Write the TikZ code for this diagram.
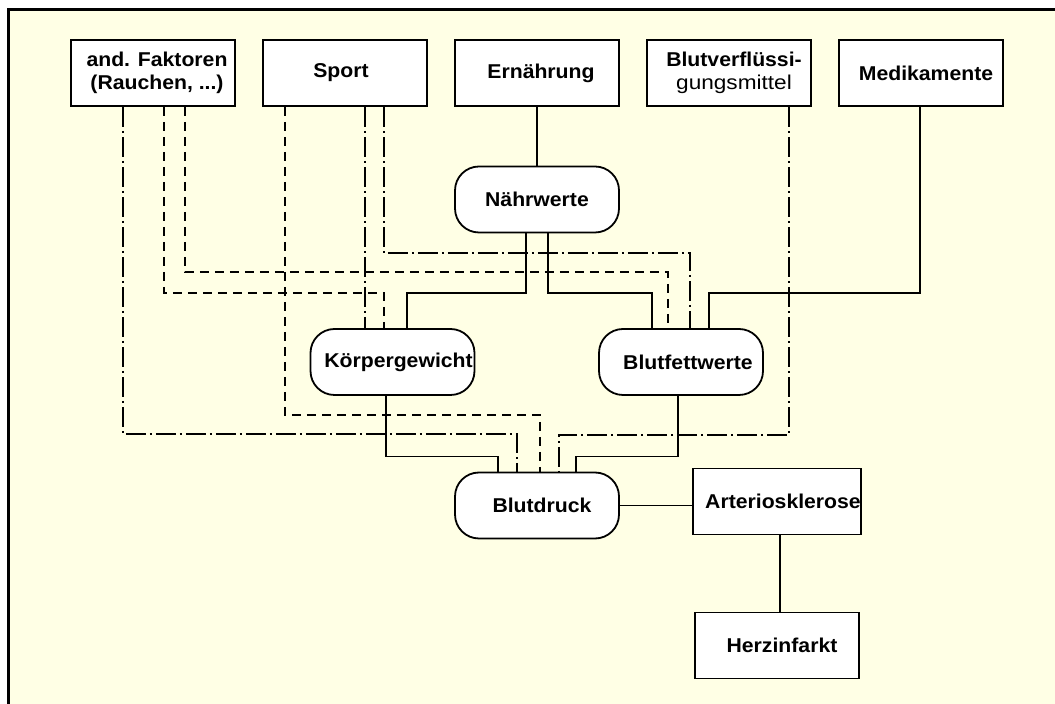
\documentclass[tikz,border=0pt]{standalone}
\usepackage{fontspec}
\newfontfamily\lab[FakeStretch=1.06]{Liberation Sans}
\newfontfamily\labthin[FakeStretch=1.13]{Liberation Sans}
\definecolor{bgyellow}{RGB}{255,255,229}
\tikzset{
  box/.style={draw, fill=white, line width=0.9pt, minimum width=82pt, minimum height=33pt,
    inner sep=0pt, align=center, font={\lab\bfseries\fontsize{10pt}{11.8pt}\selectfont}},
  rbox/.style={box, rounded corners=12pt},
  ln/.style={line width=0.9pt},
  dsh/.style={ln, dash pattern=on 4.5pt off 3pt},
  dshdot/.style={ln, dash pattern=on 10pt off 2pt on 1pt off 2pt},
}
\begin{document}
\begin{tikzpicture}[x=0.5pt,y=-0.5pt]
\useasboundingbox (0,0) rectangle (1055,704);
\fill[white] (0,0) rectangle (1055,704);
\fill[bgyellow] (8,9.7) rectangle (1055,704);
\draw[line width=1.5pt] (8,704) -- (8,9.7) -- (1055,9.7);

% top row
\node[box] (fak) at (153,73) {\hspace*{4pt}and. Faktoren\\\hspace*{4pt}(Rauchen, ...)};
\node[box] (sport) at (345,73) {\hspace*{-4pt}Sport};
\node[box] (ern) at (537,73) {\hspace*{4pt}Ernährung};
\node[box] (blv) at (729,73) {\hspace*{5pt}Blutverflüssi-\\{\labthin\mdseries\hspace*{5pt}gungsmittel}};
\node[box] (med) at (921,73) {\hspace*{5pt}Medikamente};

% middle
\node[rbox] (naehr) at (537,199.5) {Nährwerte};
\node[rbox] (koerp) at (392.5,362) {\hspace*{6pt}Körpergewicht};
\node[rbox] (blutf) at (681,362) {\hspace*{7pt}Blutfettwerte};
\node[rbox] (bdruck) at (537,505.5) {\hspace*{5pt}Blutdruck};

% right column
\node[box] (arterio) at (777,501.5) {\hspace*{6pt}Arteriosklerose};
\node[box] (herz) at (777,645.5) {\hspace*{5pt}Herzinfarkt};

% solid connectors
\draw[ln] (ern) -- (naehr);
\draw[ln] (526,0 |- naehr.south) |- (407,293) -- (407,0 |- koerp.north);
\draw[ln] (548,0 |- naehr.south) |- (652,293) -- (652,0 |- blutf.north);
\draw[ln] (920,0 |- med.south) |- (709,293) -- (709,0 |- blutf.north);
\draw[ln] (386,0 |- koerp.south) |- (498,456.5) -- (498,0 |- bdruck.north);
\draw[ln] (678,0 |- blutf.south) |- (576,456.5) -- (576,0 |- bdruck.north);
\draw[ln] (bdruck.east) -- (bdruck.east -| arterio.west);
\draw[ln] (780,0 |- arterio.south) -- (780,0 |- herz.north);

% dashed connectors
\draw[dsh] (164,0 |- fak.south) |- (384,293) -- (384,0 |- koerp.north);
\draw[dsh] (185,0 |- fak.south) |- (668,272) -- (668,0 |- blutf.north);
\draw[dsh] (285,0 |- sport.south) |- (540,415) -- (540,0 |- bdruck.north);

% dash-dotted connectors
\draw[dshdot] (123,0 |- fak.south) |- (517,434) -- (517,0 |- bdruck.north);
\draw[dshdot] (365,0 |- sport.south) -- (365,0 |- koerp.north);
\draw[dshdot] (384,0 |- sport.south) |- (690,253) -- (690,0 |- blutf.north);
\draw[dshdot] (789,0 |- blv.south) |- (559,435) -- (559,0 |- bdruck.north);
\end{tikzpicture}
\end{document}
